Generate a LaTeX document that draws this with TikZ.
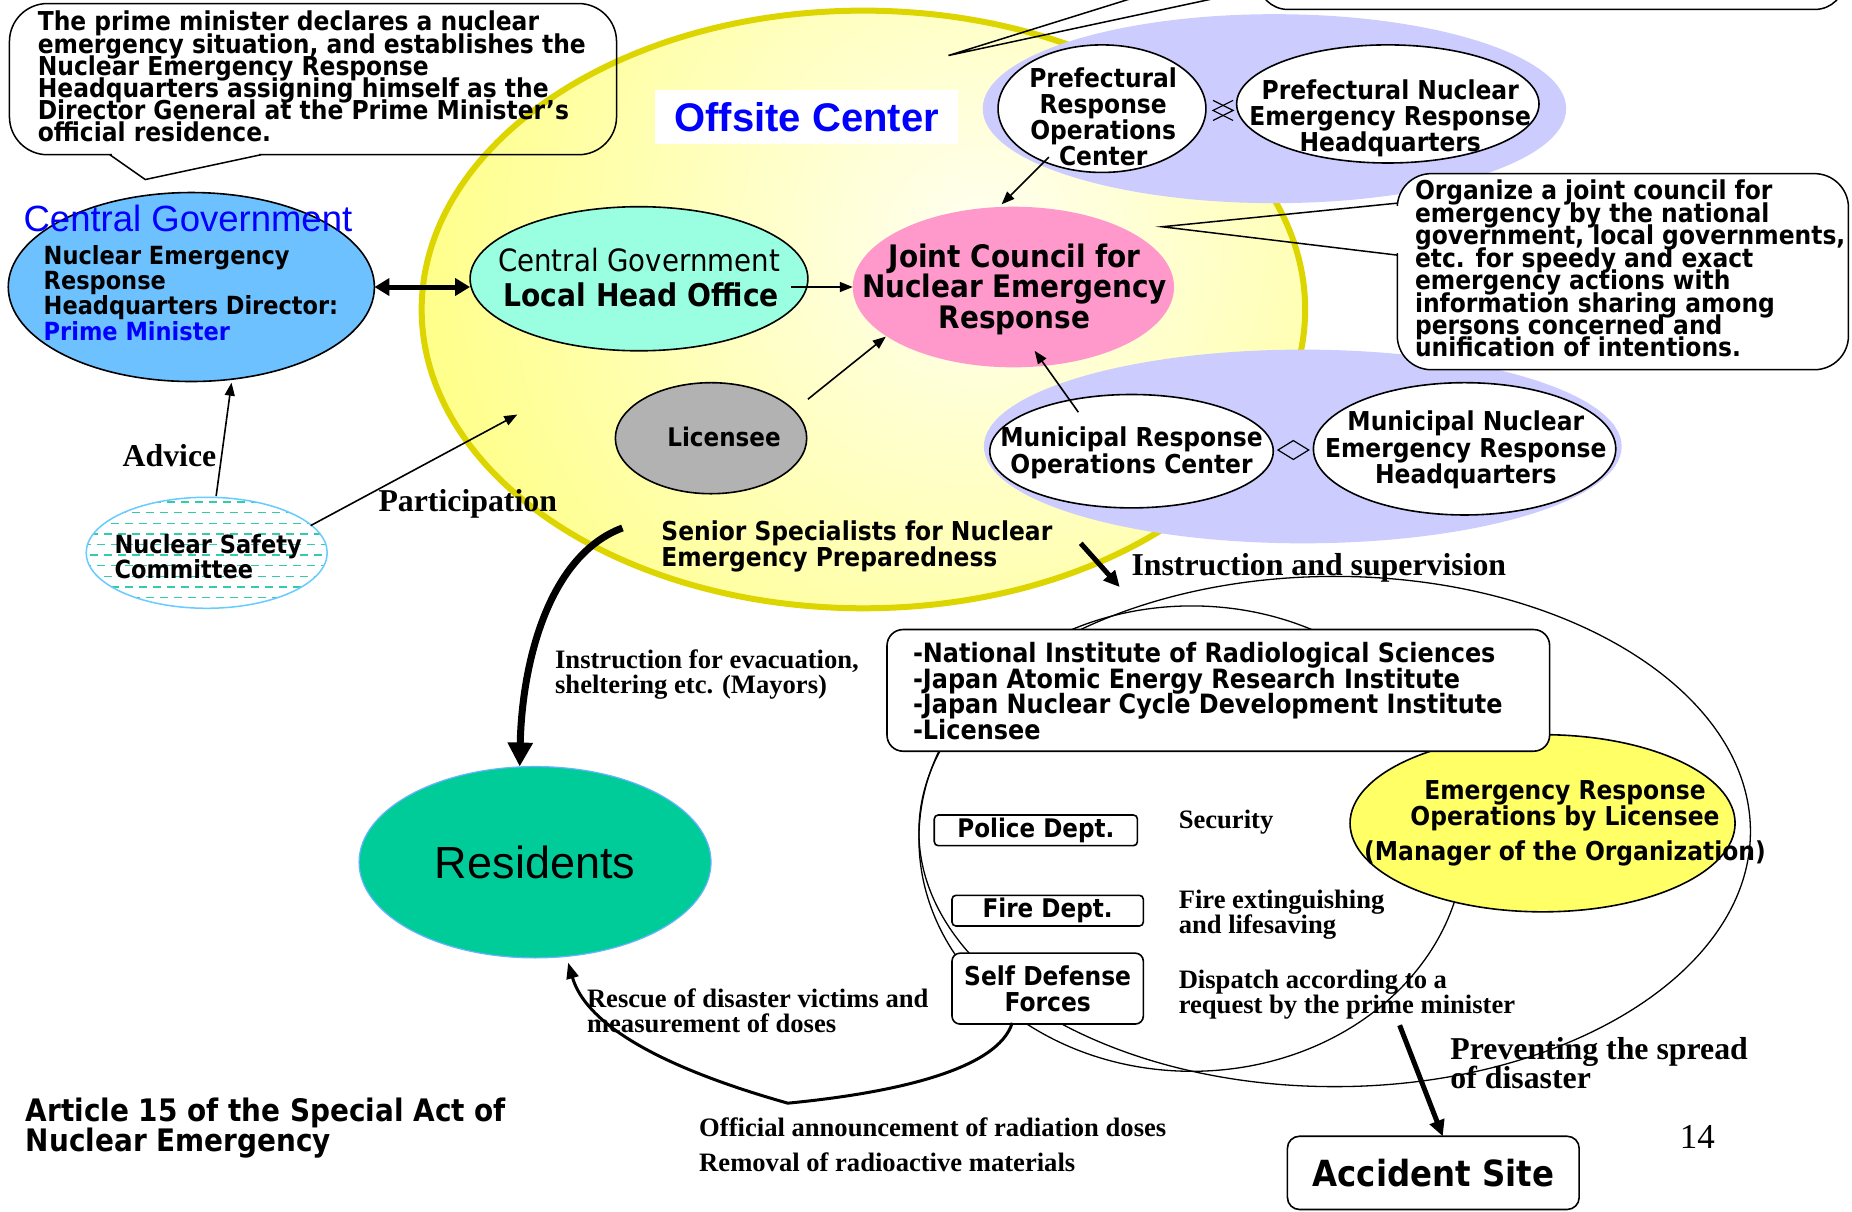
\documentclass[tikz,border=0pt]{standalone}
\usepackage{fontspec}
\setmainfont{Liberation Serif}
\newfontfamily\tah[FakeStretch=0.9]{DejaVu Sans}
\newfontfamily\ari{Liberation Sans}
\usetikzlibrary{arrows.meta,shapes.geometric,calc}
\definecolor{offyel}{HTML}{FFFF66}
\definecolor{offin}{HTML}{FFFFF2}
\definecolor{offbd}{HTML}{DDD500}
\definecolor{lav}{HTML}{CCCCFF}
\definecolor{cgblue}{HTML}{6EC1FF}
\definecolor{aqua}{HTML}{99FFE0}
\definecolor{pinkjc}{HTML}{FF99CC}
\definecolor{grlic}{HTML}{B2B2B2}
\definecolor{resgreen}{HTML}{00CC99}
\definecolor{resbd}{HTML}{66B3FF}
\definecolor{nscbd}{HTML}{66CCFF}
\definecolor{nscdash}{HTML}{33CCAA}
\definecolor{txtblue}{HTML}{0000FF}
\def\unitpx{1.181pt}
\newcommand\fsz[2]{\fontsize{#1}{#2}\selectfont\lineskiplimit=-100pt\lineskip=0pt}
\begin{document}
\begin{tikzpicture}[x=1.181pt,y=-1.181pt,
  el/.style={ellipse, inner sep=0pt, outer sep=0pt},
  ol/.style={draw=black, line width=1.6pt},
  tx/.style={inner sep=0pt, outer sep=0pt},
  tb/.style={font=\tah\bfseries\fsz{26}{26}},
  sb/.style={font=\bfseries\fsz{26.6}{25}},
  sbl/.style={font=\bfseries\fsz{31.8}{30}},
  rbox/.style={draw=black, line width=1.6pt, fill=white, inner sep=0pt, outer sep=0pt},
  tarr/.style={line width=1.6pt, -{Triangle[length=13pt,width=10pt]}},
  dblarr/.style={line width=5pt, {Triangle[length=15pt,width=17pt]}-{Triangle[length=15pt,width=17pt]}},
  tkarr/.style={line width=5pt, -{Triangle[length=16pt,width=15pt]}},
  evac/.style={line width=7pt, -{Triangle[length=24pt,width=24pt]}},
  sdfarr/.style={line width=3pt, -{Triangle[length=16pt,width=12pt]}},
  callout/.style={line width=1.5pt}
]
\fill[white] (0,0) rectangle (1568,1026);
\useasboundingbox (0,0) rectangle (1568,1026);

% Offsite center big ellipse
\node[el, minimum width=748*\unitpx, minimum height=506*\unitpx, fill=offyel] (off) at (731,262) {};
\begin{scope}
  \clip (off.center) ellipse [x radius=441.7pt, y radius=298.8pt];
  \shade[inner color=offin, outer color=offyel] (830,205) circle (760pt);
\end{scope}
\draw[offbd, line width=6pt] (off.center) ellipse [x radius=441.7pt, y radius=298.8pt];

% top-left callout
\draw[callout, rounded corners=38pt] (8,3) rectangle (522,131);
\fill[white] (95,128) rectangle (219,134);
\draw[callout] (93,131) -- (123,152) -- (221,131);
\node[tx, anchor=west, align=left, font=\tah\bfseries\fsz{26}{22.2}] (tl-t) at (32,65)
  {The prime minister declares a nuclear\\emergency situation, and establishes the\\Nuclear Emergency Response\\Headquarters assigning himself as the\\Director General at the Prime Minister’s\\official residence.};

% lavender groups
\node[el, minimum width=494*\unitpx, minimum height=160*\unitpx, fill=lav] (pref) at (1079,92) {};
\node[el, minimum width=540*\unitpx, minimum height=164*\unitpx, fill=lav] (muni) at (1103,378) {};

% top-right partial callout
\draw[callout, rounded corners=30pt] (1065,-200) rectangle (1562,8);
\draw[callout] (1050,-30) -- (803,47) -- (1162,-30);

% Offsite Center label
\node[fill=white, minimum width=257*\unitpx, minimum height=46*\unitpx, inner sep=0pt, font=\ari\bfseries\fsz{40}{40}, text=txtblue] (oc) at (683,99) {Offsite Center};

% prefectural
\node[el, ol, fill=white, minimum width=176*\unitpx, minimum height=108*\unitpx] (proc) at (933,92) {};
\node[tx, tb, align=center] (proc-t) at (934,99) {Prefectural\\Response\\Operations\\Center};
\node[el, ol, fill=white, minimum width=256*\unitpx, minimum height=100*\unitpx] (pnerh) at (1175,88) {};
\node[tx, tb, align=center] (pnerh-t) at (1177,100) {Prefectural Nuclear\\Emergency Response\\Headquarters};
\coordinate (pd) at ($(proc.east)!.5!(pnerh.west)+(1.5,3.5)$);
\draw[line width=1.2pt] ($(pd)+(8.5,-8.5)$) -- ($(pd)+(-8.5,0)$) -- ($(pd)+(8.5,8.5)$);
\draw[line width=1.2pt] ($(pd)+(-8.5,-8.5)$) -- ($(pd)+(8.5,0)$) -- ($(pd)+(-8.5,8.5)$);

% municipal
\node[el, ol, fill=white, minimum width=240*\unitpx, minimum height=96*\unitpx] (mroc) at (958,382) {};
\node[tx, font=\tah\bfseries\fsz{26}{27}, align=center] (mroc-t) at (958,383) {Municipal Response\\Operations Center};
\node[el, ol, fill=white, minimum width=256*\unitpx, minimum height=112*\unitpx] (mnerh) at (1240,380) {};
\node[tx, font=\tah\bfseries\fsz{26}{26.5}, align=center] (mnerh-t) at (1241,381) {Municipal Nuclear\\Emergency Response\\Headquarters};
\coordinate (md) at ($(mroc.east)!.5!(mnerh.west)$);
\draw[line width=1.2pt] ($(md)+(-13,0)$) -- ($(md)+(0,-8)$) -- ($(md)+(13,0)$) -- ($(md)+(0,8)$) -- cycle;

% central government
\node[el, ol, fill=cgblue, minimum width=310*\unitpx, minimum height=160*\unitpx] (cg) at (162,243) {};
\node[tx, anchor=west, font=\ari\fsz{36.5}{36}, text=txtblue] (cg-t) at (20,185) {Central Government};
\node[tx, anchor=west, align=left, font=\tah\bfseries\fsz{25}{25.4}] (cg-b) at (37,248)
  {Nuclear Emergency\\Response\\Headquarters Director:\\\textcolor{txtblue}{Prime Minister}};

% local head office
\node[el, ol, fill=aqua, minimum width=286*\unitpx, minimum height=122*\unitpx] (lho) at (541,236) {};
\node[tx, font=\tah\fsz{30.7}{31}] (lho-t1) at (541,220) {Central Government};
\node[tx, font=\tah\bfseries\fsz{31.3}{31}] (lho-t2) at (543,250) {Local Head Office};

% joint council
\node[el, fill=pinkjc, minimum width=272*\unitpx, minimum height=136*\unitpx] (jc) at (858,243) {};
\node[tx, align=center, font=\tah\bfseries\fsz{31}{30.7}] (jc-t) at (859,245) {Joint Council for\\Nuclear Emergency\\Response};

% licensee
\node[el, ol, fill=grlic, minimum width=162*\unitpx, minimum height=94*\unitpx] (lic) at (602,371) {};
\node[tx, font=\tah\bfseries\fsz{25.6}{26}] (lic-t) at (613,370) {Licensee};

% right callout
\draw[callout, fill=white, rounded corners=34pt] (1183,147) rectangle (1565,313);
\fill[white] (1180,174) rectangle (1186,214);
\draw[callout] (1183,172) -- (984,192) -- (1183,216);
\node[tx, anchor=west, align=left, font=\tah\bfseries\fsz{26}{22.4}] (org-t) at (1198,227.5)
  {Organize a joint council for\\emergency by the national\\government, local governments,\\etc. for speedy and exact\\emergency actions with\\information sharing among\\persons concerned and\\unification of intentions.};

% senior specialists
\node[tx, anchor=west, align=left, tb] (ss-t) at (560,463) {Senior Specialists for Nuclear\\Emergency Preparedness};

% nuclear safety committee
\node[el, fill=white, minimum width=204*\unitpx, minimum height=94*\unitpx] (nsc) at (175,468) {};
\begin{scope}
  \clip (nsc.center) ellipse [x radius=120.5pt, y radius=55.5pt];
  \foreach \yy in {425,443,...,515} {\draw[nscdash, line width=1.4pt, dash pattern=on 8pt off 6pt] (70,\yy) -- (282,\yy);}
  \foreach \yy in {434,452,...,515} {\draw[nscdash, line width=1.4pt, dash pattern=on 8pt off 6pt, dash phase=7pt] (70,\yy) -- (282,\yy);}
\end{scope}
\draw[nscbd, line width=1.5pt] (nsc.center) ellipse [x radius=120.5pt, y radius=55.5pt];
\node[tx, anchor=west, align=left, font=\tah\bfseries\fsz{25}{24.8}] (nsc-t) at (97,471.5) {Nuclear Safety\\Committee};

% residents
\node[el, fill=resgreen, draw=resbd, line width=1.2pt, minimum width=298*\unitpx, minimum height=162*\unitpx] (res) at (453,730) {};
\node[tx, font=\ari\fsz{45}{45}] (res-t) at (453,730) {Residents};

% lower right group
\node[el, draw=black, line width=1.3pt, minimum width=704*\unitpx, minimum height=432*\unitpx] (outerE) at (1130,704) {};
\node[el, draw=black, line width=1.3pt, minimum width=462*\unitpx, minimum height=394*\unitpx] (innerE) at (1009,710) {};
\node[el, ol, fill=offyel, minimum width=326*\unitpx, minimum height=150*\unitpx] (ero) at (1306,697) {};
\node[tx, align=center, tb] (ero-t) at (1325,697) {Emergency Response\\Operations by Licensee\\[9pt](Manager of the Organization)};
\node[rbox, rounded corners=16pt, minimum width=561*\unitpx, minimum height=103*\unitpx] (inst) at (1031.5,584.5) {};
\node[tx, anchor=west, align=left, font=\tah\bfseries\fsz{26.6}{25.6}] (inst-t) at (773,585)
  {-National Institute of Radiological Sciences\\-Japan Atomic Energy Research Institute\\-Japan Nuclear Cycle Development Institute\\-Licensee};
\node[rbox, rounded corners=4pt, minimum width=172*\unitpx, minimum height=26*\unitpx, font=\tah\bfseries\fsz{25.6}{26}] (police) at (877,703) {Police Dept.};
\node[rbox, rounded corners=4pt, minimum width=162*\unitpx, minimum height=26*\unitpx, font=\tah\bfseries\fsz{25.7}{26}] (fire) at (887,771) {Fire Dept.};
\node[rbox, rounded corners=8pt, minimum width=162*\unitpx, minimum height=60*\unitpx, align=center, font=\tah\bfseries\fsz{26}{26}] (sdf) at (887,837) {Self Defense\\Forces};
\node[tx, anchor=west, sb] (sec-t) at (998,696) {Security};
\node[tx, anchor=west, align=left, sb] (fx-t) at (998,774.5) {Fire extinguishing\\and lifesaving};
\node[tx, anchor=west, align=left, sb] (dp-t) at (998,842) {Dispatch according to a\\request by the prime minister};

% accident site
\node[rbox, rounded corners=12pt, minimum width=247*\unitpx, minimum height=62*\unitpx, font=\tah\bfseries\fsz{36}{36}] (acc) at (1213.5,993) {Accident Site};

% labels
\node[tx, sbl] (adv-t) at (143.5,386) {Advice};
\node[tx, sbl] (par-t) at (396,427) {Participation};
\node[tx, anchor=west, align=left, sb] (ev-t) at (470,571.5) {Instruction for evacuation,\\sheltering etc. (Mayors)};
\node[tx, anchor=west, sbl] (is-t) at (958,481) {Instruction and supervision};
\node[tx, anchor=west, align=left, sb] (rs-t) at (497,856) {Rescue of disaster victims and\\measurement of doses};
\node[tx, anchor=west, align=left, font=\bfseries\fsz{26.6}{35.4}] (oa-t) at (592,969) {Official announcement of radiation doses\\Removal of radioactive materials};
\node[tx, anchor=west, align=left, font=\bfseries\fsz{31.8}{29.5}] (pv-t) at (1228,900) {Preventing the spread\\of disaster};
\node[tx, font=\fsz{35}{35}] (pg) at (1437,963) {14};
\node[tx, anchor=west, align=left, font=\tah\bfseries\fsz{31}{30.7}] (art-t) at (22,955) {Article 15 of the Special Act of\\Nuclear Emergency};

% connectors
\draw[dblarr] (cg.east) -- (cg.east -| lho.west);
\draw[tarr] ($(lho.center)+(129,7)$) -- (jc.west);
\draw[tarr] ($(proc.center)+(-45,41)$) -- ($(jc.center)+(-10,-70)$);
\draw[tarr] ($(lic.center)+(82,-33)$) -- ($(jc.center)+(-108,42)$);
\draw[tarr] ($(mroc.center)+(-45,-33)$) -- ($(jc.center)+(18,54)$);
\draw[tarr] ($(nsc.center)+(8,-48)$) -- ($(cg.center)+(34,81)$);
\draw[tarr] ($(nsc.center)+(88,-23)$) -- ($(off.center)+(-293,89)$);
\draw[evac] ($(off.center)+(-204,185)$) .. controls ($(off.center)+(-266,208)$) and ($(res.center)+(-11,-170)$) .. ($(res.center)+(-13,-81)$);
\draw[tkarr] ($(off.center)+(184,198)$) -- ($(outerE.center)+(-182,-207)$);
\coordinate (merge) at (667,934);
\draw[sdfarr] ($(sdf.center)+(-30,29)$) .. controls (845,905) and (760,925) .. (merge) .. controls (600,915) and (500,880) .. ($(res.center)+(28,85)$);
\draw[tkarr] ($(outerE.center)+(55,164)$) -- ($(acc.north)+(8,0)$);
\end{tikzpicture}
\end{document}
